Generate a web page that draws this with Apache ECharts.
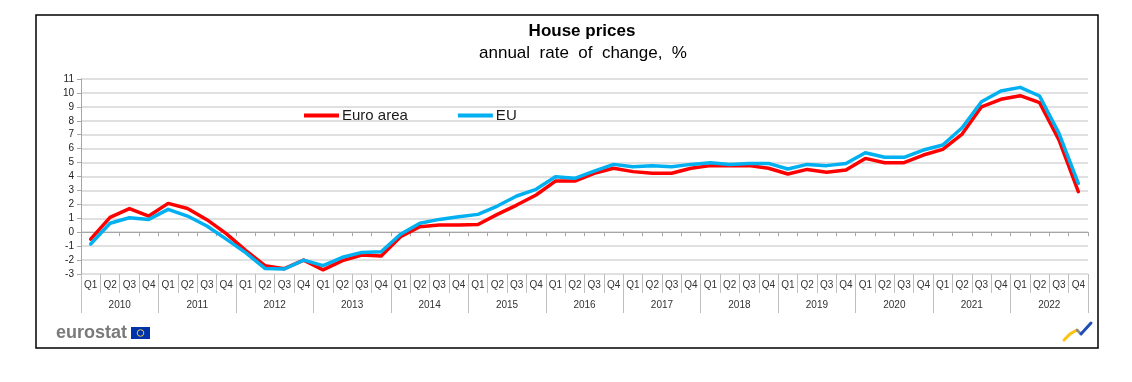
<!DOCTYPE html>
<html>
<head>
<meta charset="utf-8">
<script src="https://cdn.jsdelivr.net/npm/echarts@6/dist/echarts.min.js"></script>
<style>
html,body{margin:0;padding:0;background:#fff;}
#chart{width:1132px;height:382px;}
</style>
</head>
<body>
<div id="chart"></div>
<script>
var years = ['2010','2011','2012','2013','2014','2015','2016','2017','2018','2019','2020','2021','2022'];
var quarters = ['Q1','Q2','Q3','Q4'];
var yTicks = {min: -3, max: 11, interval: 1};
var euroArea = [-0.5, 1.07, 1.7, 1.16, 2.07, 1.7, 0.9, -0.1, -1.3, -2.4, -2.62, -2.0, -2.7, -2.04, -1.64, -1.71, -0.32, 0.4, 0.52, 0.52, 0.55, 1.28, 1.95, 2.67, 3.67, 3.67, 4.23, 4.59, 4.35, 4.23, 4.23, 4.59, 4.78, 4.78, 4.78, 4.59, 4.18, 4.51, 4.3, 4.47, 5.3, 4.99, 4.99, 5.54, 5.95, 7.05, 9.0, 9.54, 9.8, 9.3, 6.62, 2.91];
var eu = [-0.85, 0.64, 1.04, 0.92, 1.64, 1.16, 0.45, -0.5, -1.47, -2.6, -2.64, -2.0, -2.4, -1.8, -1.45, -1.4, -0.15, 0.64, 0.92, 1.11, 1.28, 1.88, 2.6, 3.08, 3.98, 3.87, 4.39, 4.87, 4.7, 4.77, 4.7, 4.87, 4.99, 4.87, 4.94, 4.94, 4.54, 4.87, 4.78, 4.94, 5.71, 5.38, 5.38, 5.9, 6.26, 7.5, 9.37, 10.14, 10.4, 9.78, 7.1, 3.5];

var categories = [];
var quarterLabels = [];
years.forEach(function (y) {
  quarters.forEach(function (q) {
    categories.push(y + ' ' + q);
    quarterLabels.push(q);
  });
});

var FONT = '"Liberation Sans", Arial, sans-serif';
var chart = echarts.init(document.getElementById('chart'), null, {renderer: 'canvas'});
chart.setOption({
  backgroundColor: '#ffffff',
  animation: false,
  textStyle: {fontFamily: FONT},
  grid: {left: 81, right: 44, top: 79, bottom: 108, containLabel: false},
  legend: {
    left: 299, top: 103,
    icon: 'rect', itemWidth: 35, itemHeight: 4, itemGap: 50,
    textStyle: {fontSize: 15, color: '#1a1a1a', fontFamily: FONT, padding: [0, 0, 0, -2]},
    data: ['Euro area', 'EU']
  },
  xAxis: [
    {
      type: 'category', data: categories, position: 'bottom',
      axisLine: {show: true, onZero: true, lineStyle: {color: '#a6a6a6', width: 1}},
      axisTick: {show: true, interval: 0, length: 4, lineStyle: {color: '#a6a6a6'}},
      axisLabel: {show: false},
      splitLine: {show: false}
    },
    {
      type: 'category', data: quarterLabels, position: 'bottom',
      axisLine: {show: false, onZero: false},
      axisTick: {show: true, interval: 0, length: 19, lineStyle: {color: '#bfbfbf'}},
      axisLabel: {show: true, interval: 0, margin: 6, fontSize: 10, color: '#333', fontFamily: FONT},
      splitLine: {show: false}
    },
    {
      type: 'category', data: years, position: 'bottom',
      axisLine: {show: false, onZero: false},
      axisTick: {show: true, interval: 0, length: 39, lineStyle: {color: '#bfbfbf'}},
      axisLabel: {show: true, interval: 0, margin: 26, fontSize: 10, color: '#333', fontFamily: FONT},
      splitLine: {show: false}
    }
  ],
  yAxis: {
    type: 'value', min: yTicks.min, max: yTicks.max, interval: yTicks.interval,
    axisLine: {show: true, lineStyle: {color: '#a6a6a6', width: 1}},
    axisTick: {show: true, length: 4, lineStyle: {color: '#a6a6a6'}},
    axisLabel: {fontSize: 10, color: '#222', margin: 7, fontFamily: FONT},
    splitLine: {show: true, lineStyle: {color: '#e0e0e0', width: 2}}
  },
  series: [
    {
      name: 'Euro area', type: 'line', data: euroArea, xAxisIndex: 0, yAxisIndex: 0,
      showSymbol: false, symbol: 'none',
      lineStyle: {color: '#ff0000', width: 3.5, cap: 'round', join: 'round'},
      itemStyle: {color: '#ff0000'}, z: 3
    },
    {
      name: 'EU', type: 'line', data: eu, xAxisIndex: 0, yAxisIndex: 0,
      showSymbol: false, symbol: 'none',
      lineStyle: {color: '#00b0f0', width: 3.5, cap: 'round', join: 'round'},
      itemStyle: {color: '#00b0f0'}, z: 4
    }
  ],
  graphic: [
    {type: 'rect', shape: {x: 36, y: 15, width: 1062, height: 333}, style: {fill: 'none', stroke: '#000', lineWidth: 1.5}, silent: true, z: -1},
    {type: 'text', x: 582, y: 23, style: {text: 'House prices', font: 'bold 17px ' + FONT, fill: '#000', textAlign: 'center'}},
    {type: 'text', x: 583, y: 45, style: {text: 'annual  rate  of  change,  %', font: '17px ' + FONT, fill: '#000', textAlign: 'center'}},
    {type: 'text', x: 56, y: 324, style: {text: 'eurostat', font: 'bold 18px ' + FONT, fill: '#7a7a7a'}},
    {type: 'rect', shape: {x: 131, y: 327, width: 19, height: 12}, style: {fill: '#0033aa'}},
    {type: 'circle', shape: {cx: 140.5, cy: 333, r: 3.3}, style: {fill: 'none', stroke: '#e6c84a', lineWidth: 1}},
    {type: 'polyline', shape: {points: [[1064, 340], [1070, 334], [1077, 330]]}, style: {stroke: '#ffc20e', lineWidth: 3, fill: 'none', lineCap: 'round'}},
    {type: 'polyline', shape: {points: [[1077, 330], [1081, 334]]}, style: {stroke: '#8a8a8a', lineWidth: 2.5, fill: 'none', lineCap: 'round'}},
    {type: 'polyline', shape: {points: [[1081, 334], [1091, 323]]}, style: {stroke: '#1f4eb4', lineWidth: 3, fill: 'none', lineCap: 'round'}}
  ]
});
</script>
</body>
</html>
